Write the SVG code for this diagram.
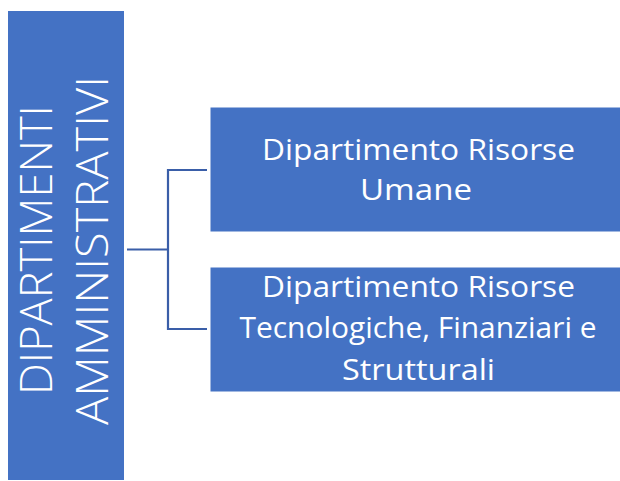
<svg xmlns="http://www.w3.org/2000/svg" width="620" height="481" viewBox="0 0 620 481">
<style>
.box{fill:#4472C4;}
.t{font-family:"Open Sans","Liberation Sans",sans-serif;fill:#ffffff;text-anchor:middle;}
.r{font-size:30px;}
.l{font-size:44px;font-weight:300;}
.c{fill:none;stroke:#3A5EA8;stroke-width:2.2;}
</style>
<rect width="620" height="481" fill="#ffffff"/>
<g id="connectors">
<polyline class="c" points="127,249.5 168,249.5"/>
<polyline class="c" points="207,170 168,170 168,329 207,329"/>
</g>
<g id="root">
<rect class="box" x="8" y="11" width="116" height="469"/>
<text class="t l" transform="translate(52,250) rotate(-90)" textLength="290" lengthAdjust="spacingAndGlyphs">DIPARTIMENTI</text>
<text class="t l" transform="translate(108,250.5) rotate(-90)" textLength="349" lengthAdjust="spacingAndGlyphs">AMMINISTRATIVI</text>
</g>
<g id="node1">
<rect class="box" x="210.5" y="107.5" width="412" height="124"/>
<text class="t r" x="418.5" y="160" textLength="313" lengthAdjust="spacingAndGlyphs">Dipartimento Risorse</text>
<text class="t r" x="416" y="200" textLength="112" lengthAdjust="spacingAndGlyphs">Umane</text>
</g>
<g id="node2">
<rect class="box" x="210.5" y="267.5" width="412" height="124"/>
<text class="t r" x="418.5" y="297" textLength="313" lengthAdjust="spacingAndGlyphs">Dipartimento Risorse</text>
<text class="t r" x="418" y="338" textLength="357" lengthAdjust="spacingAndGlyphs">Tecnologiche, Finanziari e</text>
<text class="t r" x="418.5" y="380" textLength="153" lengthAdjust="spacingAndGlyphs">Strutturali</text>
</g>
</svg>
